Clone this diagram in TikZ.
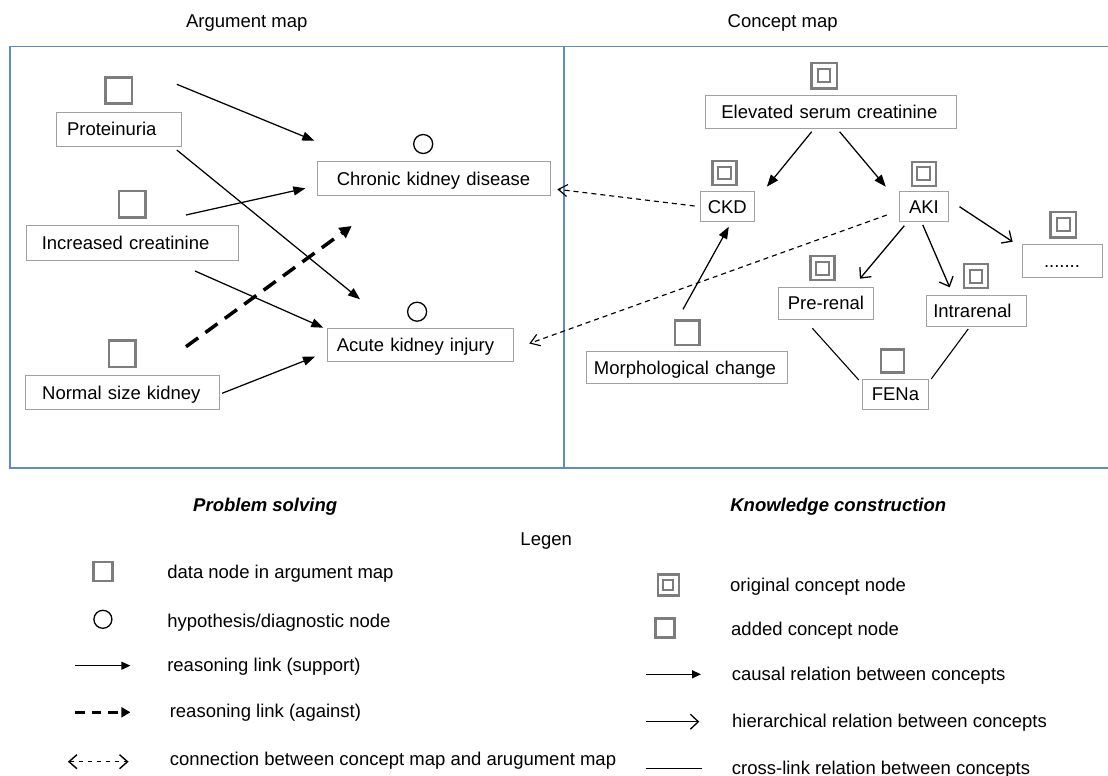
\documentclass[tikz,border=0pt]{standalone}
\usepackage{fontspec}
\setmainfont{Liberation Sans}
\usetikzlibrary{arrows.meta}
\definecolor{framecol}{RGB}{95,140,200}
\definecolor{boxcol}{RGB}{160,160,160}
\definecolor{sqcol}{RGB}{125,125,125}
\tikzset{
 lbl/.style={inner sep=0pt, text height=13.2pt, text depth=0pt},
 box/.style={draw=boxcol, line width=0.9pt, inner ysep=0pt, text height=13.2pt, text depth=0pt},
 lbox/.style={box, align=left},
 dsq/.style={draw=sqcol, line width=2.6pt, minimum size=26.4pt, inner sep=0pt},
 osq/.style={draw=sqcol, line width=2.3pt, minimum size=24pt, inner sep=0pt,
   path picture={\draw[sqcol, line width=2pt] ([shift={(-6.3pt,-6.3pt)}]path picture bounding box.center) rectangle ([shift={(6.3pt,6.3pt)}]path picture bounding box.center);}},
 osqs/.style={draw=sqcol, line width=2.3pt, minimum size=21pt, inner sep=0pt,
   path picture={\draw[sqcol, line width=2pt] ([shift={(-4.9pt,-4.9pt)}]path picture bounding box.center) rectangle ([shift={(4.9pt,4.9pt)}]path picture bounding box.center);}},
 hyp/.style={draw=black, circle, line width=1.3pt, minimum size=19pt, inner sep=0pt},
 sup/.style={line width=1.25pt, -{Triangle[length=12pt,width=9pt]}},
 ag/.style={line width=3.5pt, dash pattern=on 15pt off 9pt, -{Triangle[length=12pt,width=12pt]}},
 hier/.style={line width=1.3pt, -{Straight Barb[length=8pt,width=15pt]}},
 cross/.style={line width=1.1pt},
 conn/.style={line width=1.15pt, dash pattern=on 5pt off 4pt, -{Straight Barb[length=9pt,width=12pt]}},
 hdr/.style={inner sep=0pt, text height=13.2pt, text depth=0pt, font=\fontsize{18.5}{22}\selectfont\bfseries\itshape},
}
\begin{document}
\begin{tikzpicture}[x=1pt, y=-1pt, font=\fontsize{18.5}{22}\selectfont]
\useasboundingbox (0,0) rectangle (1108,776);

% titles
\node[lbl] (tArg) at (246.7,21) {Argument map};
\node[lbl] (tCon) at (782.7,21) {Concept map};

% frames
\draw[framecol, line width=1.3pt] (10,46.7) rectangle (564,468);
\draw[framecol, line width=1.3pt] (564,46.7) rectangle (1112,468);

% ---------- argument map ----------
\node[lbox, minimum width=125pt, minimum height=34pt, text width=103.8pt, inner xsep=10.6pt] (prot) at (118.9,129) {\mbox{Proteinuria}};
\node[dsq] (sqProt) at (118.8,90.5) {};
\node[lbox, minimum width=211.8pt, minimum height=35pt, text width=181pt, inner xsep=15.4pt] (incr) at (132.3,243.2) {\mbox{Increased creatinine}};
\node[dsq] (sqIncr) at (132.3,204.2) {};
\node[lbox, minimum width=193.5pt, minimum height=33.3pt, text width=160.1pt, inner xsep=16.7pt] (nsk) at (122.2,392.4) {\mbox{Normal size kidney}};
\node[dsq] (sqNsk) at (122.3,353.8) {};

\node[lbox, minimum width=233.3pt, minimum height=33.6pt, text width=193.9pt, inner xsep=19.7pt] (ckdA) at (433.8,178.5) {\mbox{Chronic kidney disease}};
\node[hyp] (hCkd) at (423.2,144) {};
\node[lbox, minimum width=186.5pt, minimum height=32.6pt, text width=167.1pt, inner xsep=9.7pt] (akiA) at (420.4,345) {\mbox{Acute kidney injury}};
\node[hyp] (hAki) at (417.1,311.7) {};

\coordinate (a1s) at (176.8,84.3);  \coordinate (a1e) at (314.3,140.7);
\coordinate (a2s) at (176.8,150);   \coordinate (a2e) at (360,299.3);
\coordinate (a3s) at (186,215);     \coordinate (a3e) at (305.4,188.3);
\coordinate (a4s) at (195,271);     \coordinate (a4e) at (323.3,327.7);
\coordinate (a5s) at (222.1,393.3); \coordinate (a5e) at (315,356.7);
\coordinate (a6s) at (186,346.7);   \coordinate (a6e) at (351.7,226);
\draw[sup] (a1s) -- (a1e);
\draw[sup] (a2s) -- (a2e);
\draw[sup] (a3s) -- (a3e);
\draw[sup] (a4s) -- (a4e);
\draw[sup] (a5s) -- (a5e);
\draw[ag] (a6s) -- (a6e);

% ---------- concept map ----------
\node[lbox, minimum width=250.6pt, minimum height=32.6pt, text width=218.6pt, inner xsep=16pt] (esc) at (830.7,112) {\mbox{Elevated serum creatinine}};
\node[osq, minimum size=25.5pt] (oEsc) at (824.1,75.8) {};
\node[box, minimum width=54.1pt, minimum height=30pt] (ckdC) at (727.3,206.7) {CKD};
\node[osq] (oCkd) at (724.6,172.8) {};
\node[box, minimum width=48.3pt, minimum height=30pt] (akiC) at (923.9,206.7) {AKI};
\node[osq] (oAki) at (923.7,173.7) {};
\node[box, minimum width=80pt, minimum height=33pt] (dots) at (1062,260.5) {.......};
\node[osq, minimum size=25.5pt] (oDots) at (1063.3,224.7) {};
\node[box, minimum width=94.7pt, minimum height=31.7pt] (pre) at (825.9,303.2) {Pre-renal};
\node[osq] (oPre) at (822.5,268.3) {};
\node[lbox, minimum width=99.9pt, minimum height=30.3pt, text width=85.5pt, inner xsep=7.2pt] (intra) at (976,310.9) {\mbox{Intrarenal}};
\node[osq] (oIntra) at (976,276.3) {};
\node[lbox, minimum width=201.3pt, minimum height=31.6pt, text width=185.9pt, inner xsep=7.7pt] (morph) at (686.9,367.5) {\mbox{Morphological change}};
\node[dsq, minimum size=24.4pt] (sqMorph) at (687,332.7) {};
\node[box, minimum width=66.1pt, minimum height=29.7pt] (fena) at (895.4,394.2) {FENa};
\node[dsq, minimum size=23pt] (sqFena) at (892.6,361.2) {};

\coordinate (b1s) at (811.7,131.7); \coordinate (b1e) at (766.9,186.7);
\coordinate (b2s) at (839.6,131.7); \coordinate (b2e) at (885.8,186.7);
\coordinate (b3s) at (683,309.3);   \coordinate (b3e) at (728.8,226.7);
\coordinate (b4s) at (904.3,225.7); \coordinate (b4e) at (859.9,278.7);
\coordinate (b5s) at (922.8,225);   \coordinate (b5e) at (949.7,287.3);
\coordinate (b6s) at (959.5,206.7); \coordinate (b6e) at (1012.6,241.7);
\coordinate (c1s) at (812.4,328.3); \coordinate (c1e) at (858.8,380);
\coordinate (c2s) at (968.2,329);   \coordinate (c2e) at (931.2,379);
\coordinate (d1s) at (694.6,206);   \coordinate (d1e) at (557.3,189.3);
\coordinate (d2s) at (886.8,215);   \coordinate (d2e) at (529.3,343.5);
\draw[sup] (b1s) -- (b1e);
\draw[sup] (b2s) -- (b2e);
\draw[sup] (b3s) -- (b3e);
\draw[hier] (b4s) -- (b4e);
\draw[hier] (b5s) -- (b5e);
\draw[hier] (b6s) -- (b6e);
\draw[cross] (c1s) -- (c1e);
\draw[cross] (c2s) -- (c2e);
\draw[conn] (d1s) -- (d1e);
\draw[conn] (d2s) -- (d2e);

% ---------- legend ----------
\node[hdr] (hPS) at (265.2,504.5) {Problem solving};
\node[hdr] (hKC) at (838.3,504.5) {Knowledge construction};
\node[lbl] (leg) at (546.2,539.2) {Legen};

\node[dsq, line width=2.5pt, minimum size=19pt] (lSq) at (102.9,571.7) {};
\node[hyp, minimum size=18pt] (lCirc) at (102.9,619.3) {};
\coordinate (ls1) at (75,665.7);    \coordinate (le1) at (130.4,665.7);
\coordinate (ls2) at (75,712.3);    \coordinate (le2) at (130.4,712.3);
\coordinate (ls3) at (67.9,761.7);  \coordinate (le3) at (128.6,761.7);
\draw[line width=1.3pt, -{Triangle[length=9pt,width=8pt]}] (ls1) -- (le1);
\draw[line width=3.3pt, dash pattern=on 9.5pt off 7pt, -{Triangle[length=9pt,width=10pt]}] (ls2) -- (le2);
\draw[line width=1.4pt, dash pattern=on 4.5pt off 4.5pt, {Straight Barb[length=8pt,width=14pt]}-{Straight Barb[length=8pt,width=14pt]}] (ls3) -- (le3);

\node[lbl, anchor=west] (t1) at (167.1,571.5) {data node in argument map};
\node[lbl, anchor=west] (t2) at (167.1,620.5) {hypothesis/diagnostic node};
\node[lbl, anchor=west] (t3) at (167.1,664.5) {reasoning link (support)};
\node[lbl, anchor=west] (t4) at (169.6,710.5) {reasoning link (against)};
\node[lbl, anchor=west] (t5) at (169.6,758.5) {connection between concept map and arugument map};

\node[osqs] (lO) at (668.3,585) {};
\node[dsq, line width=2.5pt, minimum size=19pt] (lA) at (665,627.8) {};
\coordinate (rs1) at (645.7,674.3); \coordinate (re1) at (701,674.3);
\coordinate (rs2) at (645.7,721.7); \coordinate (re2) at (699.3,721.7);
\coordinate (rs3) at (645.7,768.3); \coordinate (re3) at (701.7,768.3);
\draw[line width=1.3pt, -{Triangle[length=9pt,width=8pt]}] (rs1) -- (re1);
\draw[hier] (rs2) -- (re2);
\draw[cross] (rs3) -- (re3);

\node[lbl, anchor=west] (u1) at (730,585) {original concept node};
\node[lbl, anchor=west] (u2) at (731,628.5) {added concept node};
\node[lbl, anchor=west] (u3) at (731.7,673.5) {causal relation between concepts};
\node[lbl, anchor=west] (u4) at (732,721) {hierarchical relation between concepts};
\node[lbl, anchor=west] (u5) at (731.7,767.5) {cross-link relation between concepts};
\end{tikzpicture}
\end{document}
